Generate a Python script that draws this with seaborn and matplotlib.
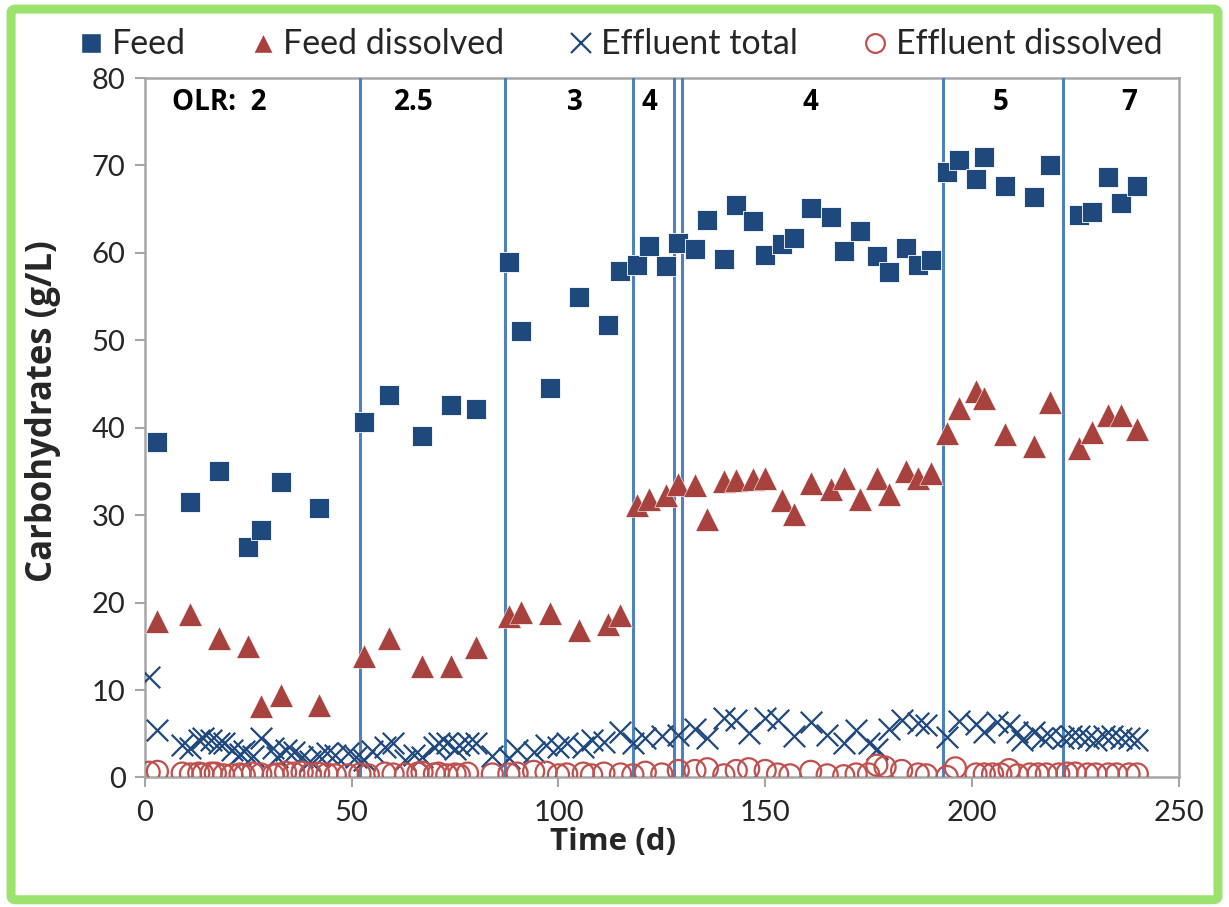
import matplotlib
matplotlib.use("Agg")
import matplotlib.pyplot as plt
import seaborn as sns
from matplotlib.lines import Line2D
from matplotlib.patches import FancyBboxPatch

# ---------------- data ----------------
feed_days = [3, 11, 18, 25, 28, 33, 42,
             53, 59, 67, 74, 80,
             88, 91, 98, 105, 112, 115,
             119, 122, 126,
             129, 133, 136, 140, 143, 147, 150, 154, 157, 161, 166, 169, 173, 177, 180, 184, 187, 190,
             194, 197, 201, 203, 208, 215, 219,
             226, 229, 233, 236, 240]
feed = [38.4, 31.5, 35.0, 26.4, 28.3, 33.8, 30.8,
        40.7, 43.8, 39.0, 42.6, 42.2,
        59.0, 51.1, 44.5, 54.9, 51.7, 57.9,
        58.6, 60.8, 58.5,
        61.1, 60.4, 63.8, 59.3, 65.5, 63.7, 59.8, 61.0, 61.7, 65.1, 64.1, 60.2, 62.5, 59.6, 57.8, 60.6, 58.6, 59.2,
        69.3, 70.6, 68.5, 71.0, 67.6, 66.4, 70.0,
        64.3, 64.7, 68.7, 65.7, 67.6]
feed_dissolved = [17.9, 18.7, 15.9, 15.0, 8.2, 9.4, 8.3,
                  13.9, 15.9, 12.7, 12.7, 14.9,
                  18.5, 18.9, 18.8, 16.9, 17.6, 18.6,
                  31.2, 31.9, 32.3,
                  33.6, 33.5, 29.6, 33.9, 34.0, 34.1, 34.3, 31.7, 30.1, 33.7, 33.0, 34.3, 31.8, 34.3, 32.4, 35.1, 34.2, 34.8,
                  39.4, 42.3, 44.2, 43.4, 39.3, 37.9, 43.0,
                  37.7, 39.5, 41.5, 41.5, 39.8]

eff_total_days = [1, 3, 9, 11, 13, 14, 16, 18, 19, 21, 23, 24, 26, 28, 31, 32, 34, 36, 38, 40, 42, 44, 46, 49, 51,
                  53, 55, 58, 60, 63, 65, 67, 70, 71, 73, 75, 76, 78, 80, 84,
                  88, 90, 94, 97, 100, 102, 106, 108, 111, 115,
                  118, 121, 125, 129,
                  133, 136, 140, 143, 146, 150, 153, 157, 161, 165, 169, 172, 175, 177, 180, 183, 187, 189,
                  194, 197, 201, 203, 206, 209, 211, 212, 215, 217, 219, 222,
                  224, 226, 228, 230, 232, 234, 236, 238, 240]
eff_total = [11.5, 5.4, 3.7, 3.4, 4.3, 4.5, 4.3, 3.9, 4.0, 3.2, 2.7, 3.0, 2.4, 4.5, 3.4, 2.3, 3.1, 2.9, 2.3, 1.9, 2.5, 2.8, 2.6, 2.8, 2.3,
             2.0, 3.0, 3.5, 3.9, 2.0, 2.6, 2.3, 3.5, 3.9, 3.9, 3.3, 3.7, 3.9, 3.9, 2.4,
             2.2, 3.1, 2.9, 3.7, 3.5, 3.9, 3.5, 4.3, 4.1, 5.2,
             3.9, 4.5, 4.7, 4.9,
             5.6, 4.5, 6.8, 6.6, 5.1, 6.8, 6.6, 4.7, 6.4, 4.9, 3.9, 5.4, 3.9, 3.3, 5.6, 6.6, 6.2, 6.0,
             4.6, 6.5, 6.1, 5.2, 6.4, 6.0, 5.2, 4.3, 5.2, 4.5, 4.7, 4.5,
             4.7, 4.7, 4.5, 4.3, 4.7, 4.7, 4.5, 4.5, 4.3]

eff_diss_days = [1, 3, 9, 11, 13, 14, 16, 17, 19, 21, 23, 24, 26, 28, 31, 32, 34, 36, 38, 40, 42, 44, 46, 49, 52, 54, 58, 60,
                 63, 66, 67, 70, 71, 73, 75, 76, 78, 84,
                 88, 90, 94, 97, 100, 102, 106, 108, 111, 115,
                 118, 121, 125, 129,
                 133, 136, 140, 143, 146, 150, 153, 156, 161, 165, 169, 172, 175, 177, 179, 183, 187, 189,
                 194, 196, 201, 203, 205, 207, 209, 211, 214, 216, 218, 221,
                 223, 225, 228, 230, 233, 235, 238, 240]
eff_diss = [0.6, 0.7, 0.5, 0.4, 0.5, 0.4, 0.5, 0.5, 0.3, 0.3, 0.4, 0.3, 0.5, 0.4, 0.3, 0.4, 0.6, 0.5, 0.6, 0.4, 0.5, 0.4, 0.3, 0.3, 0.4, 0.3, 0.5, 0.4,
            0.4, 0.5, 0.6, 0.4, 0.5, 0.3, 0.4, 0.3, 0.5, 0.4,
            0.4, 0.5, 0.7, 0.6, 0.3, 0.4, 0.5, 0.3, 0.5, 0.4,
            0.3, 0.6, 0.4, 0.8,
            0.8, 1.0, 0.3, 0.8, 1.0, 0.8, 0.4, 0.3, 0.7, 0.3, 0.2, 0.4, 0.4, 1.4, 1.2, 0.8, 0.4, 0.3,
            0.1, 1.1, 0.4, 0.4, 0.4, 0.4, 0.9, 0.3, 0.4, 0.4, 0.4, 0.4,
            0.5, 0.5, 0.4, 0.4, 0.4, 0.4, 0.4, 0.4]

olr_changes = [52, 87, 118, 128, 130, 193, 222]
olr_labels = ["OLR:  2", "2.5", "3", "4", "4", "5", "7"]
olr_label_x = [18, 65, 104, 122, 161, 207, 238]

series_names = ["Feed", "Feed dissolved", "Effluent total", "Effluent dissolved"]

# ---------------- style ----------------
sns.set_style("white")
plt.rcParams['font.family'] = ['Lato', 'DejaVu Sans']

BLUE = "#1f497d"
RED = "#a8423f"
CIRC = "#c0504d"
LINE = "#4f81bd"
GRAY = "#a6a6a6"
BOLDFONT = ['Open Sans', 'DejaVu Sans']

fig = plt.figure(figsize=(12.29, 9.07), dpi=100)
fig.patch.set_facecolor("white")
frame = FancyBboxPatch((0.009, 0.008), 0.982, 0.982, boxstyle="round,pad=0,rounding_size=0.004",
                       transform=fig.transFigure, facecolor="white", edgecolor="#9ce26f",
                       linewidth=6.5, zorder=-10)
fig.patches.append(frame)

ax = fig.add_axes([0.118, 0.1428, 0.841, 0.7712])

sns.scatterplot(x=feed_days, y=feed, ax=ax, marker="s", s=210, color=BLUE,
                edgecolor="white", linewidth=0.6, zorder=5)
sns.scatterplot(x=feed_days, y=feed_dissolved, ax=ax, marker="^", s=290, color=RED,
                edgecolor="white", linewidth=0.4, zorder=5)
sns.scatterplot(x=eff_total_days, y=eff_total, ax=ax, marker="x", s=240, color=BLUE,
                linewidth=1.6, zorder=4)
sns.scatterplot(x=eff_diss_days, y=eff_diss, ax=ax, marker="o", s=230, color=CIRC,
                facecolor="none", edgecolor=CIRC, linewidth=1.6, zorder=4)

for xv in olr_changes:
    ax.axvline(xv, color=LINE, linewidth=2.2, zorder=3)

for lx, lt in zip(olr_label_x, olr_labels):
    ax.text(lx, 77.2, lt, ha="center", va="center", fontsize=20, fontweight="bold",
            color="black", family=BOLDFONT)

ax.set_xlim(0, 250)
ax.set_ylim(0, 80)
ax.set_xticks([0, 50, 100, 150, 200, 250])
ax.set_yticks(range(0, 81, 10))
ax.tick_params(axis="both", which="both", direction="out", length=7, width=1.5, color=GRAY,
               labelsize=21, bottom=True, left=True)
ax.tick_params(axis="x", pad=9)
ax.tick_params(axis="y", pad=7)
for sp in ax.spines.values():
    sp.set_visible(True)
    sp.set_color(GRAY)
    sp.set_linewidth(1.8)
ax.set_xlabel("Time (d)", fontsize=22.5, fontweight="bold", labelpad=1, family=BOLDFONT)
ax.set_ylabel("Carbohydrates (g/L)", fontsize=25, fontweight="bold", labelpad=22, family=BOLDFONT)
ax.xaxis.label.set_x(0.453)
ax.yaxis.label.set_y(0.5236)

handles = [
    Line2D([], [], linestyle="none", marker="s", markersize=14, color=BLUE, markeredgecolor="white"),
    Line2D([], [], linestyle="none", marker="^", markersize=15, color=RED, markeredgecolor="white"),
    Line2D([], [], linestyle="none", marker="x", markersize=14, color=BLUE, markeredgewidth=1.6),
    Line2D([], [], linestyle="none", marker="o", markersize=13.5, markerfacecolor="none",
           markeredgecolor=CIRC, markeredgewidth=1.6),
]
fig.legend(handles, series_names, loc="center", ncol=4, bbox_to_anchor=(0.503, 0.951),
           frameon=False, fontsize=24.5, handletextpad=0.1, columnspacing=1.76, handlelength=1.0)

fig.savefig("out.png", dpi=100)
